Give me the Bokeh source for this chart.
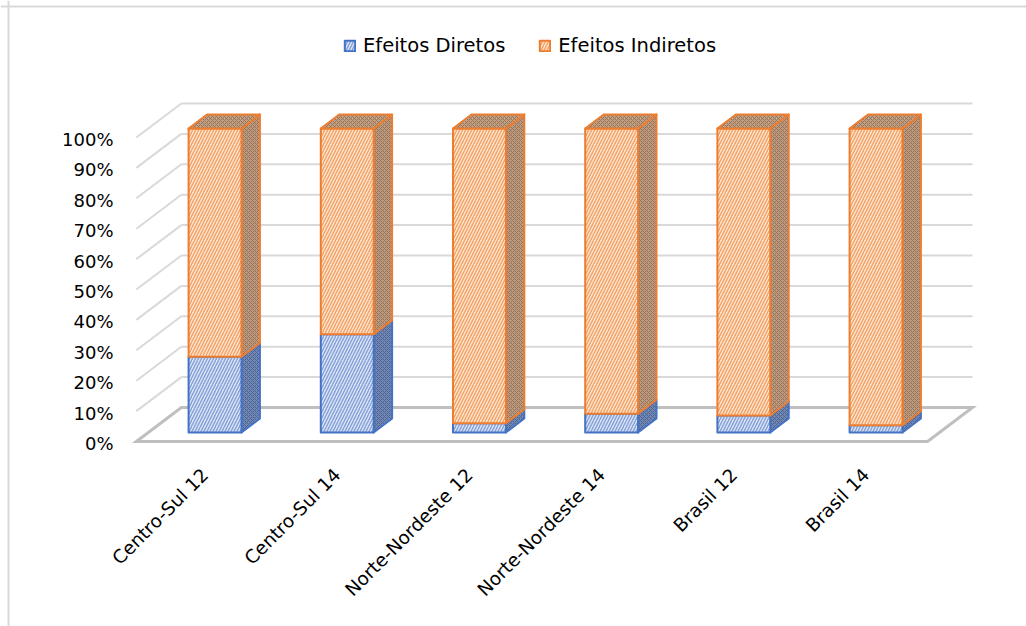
import math
from bokeh.plotting import figure
from bokeh.models import Range1d, Span, Legend, LegendItem
from bokeh.embed import file_html
from bokeh.resources import INLINE
from bokeh.core.properties import value

# ---------------- data ----------------
categories = ["Centro-Sul 12", "Centro-Sul 14", "Norte-Nordeste 12",
              "Norte-Nordeste 14", "Brasil 12", "Brasil 14"]
efeitos_diretos = [24.9, 32.3, 3.0, 6.2, 5.6, 2.4]
efeitos_indiretos = [75.1, 67.7, 97.0, 93.8, 94.4, 97.6]
series_names = ["Efeitos Diretos", "Efeitos Indiretos"]
y_ticks = [0, 10, 20, 30, 40, 50, 60, 70, 80, 90, 100]
y_tick_labels = ["0%", "10%", "20%", "30%", "40%", "50%", "60%", "70%", "80%", "90%", "100%"]

# ---------------- layout / style constants ----------------
W, H = 1026, 626
PX_PER_CAT = 132.2        # horizontal pixels per category step
PX_PER_PCT = 3.04         # vertical pixels per percent
X0_PX = 202.6             # pixel of category 0 on the front plane
Y0_PX = 441.0             # pixel of 0% on the front plane
DEPTH_DX_PX, DEPTH_DY_PX = 45.0, 34.0   # oblique depth offset (right, up)
DX = DEPTH_DX_PX / PX_PER_CAT
DY = DEPTH_DY_PX / PX_PER_PCT
BAR_HALF = 0.2            # half bar width in category units
Z_FRONT, Z_BACK = 0.265, 0.675
FLOOR_X = (-0.505, 5.48)
FONT = "DejaVu Sans"

GRID_COLOR = "#D9D9D9"
FLOOR_COLOR = "#BFBFBF"
styles = {
    "Efeitos Diretos": dict(line="#4472C4", front="#DFE7F6", front_h="#86A3D9",
                             side="#7489B2", side_h="#4A6294",
                             top="#8FA3C9", top_h="#5570A0"),
    "Efeitos Indiretos": dict(line="#ED7D31", front="#FDE8D8", front_h="#F3A466",
                               side="#BE9B7E", side_h="#94725A",
                               top="#C4A285", top_h="#937157"),
}


def proj(X, Y, Z):
    return X + Z * DX, Y + Z * DY


p = figure(width=W, height=H, output_backend="svg", toolbar_location=None,
           x_range=Range1d(-X0_PX / PX_PER_CAT, (W - X0_PX) / PX_PER_CAT),
           y_range=Range1d(-(H - Y0_PX) / PX_PER_PCT, Y0_PX / PX_PER_PCT),
           x_axis_location=None, y_axis_location=None, min_border=0,
           outline_line_color=None, background_fill_color="white",
           border_fill_color="white")
p.grid.visible = False

# outer frame of the chart area
p.add_layout(Span(location=-(X0_PX - 8) / PX_PER_CAT, dimension="height",
                  line_color=GRID_COLOR, line_width=2))
p.add_layout(Span(location=(Y0_PX - 6) / PX_PER_PCT, dimension="width",
                  line_color=GRID_COLOR, line_width=2))

# back wall gridlines
bx0, _ = proj(FLOOR_X[0], 0, 1)
bx1, _ = proj(FLOOR_X[1], 0, 1)
gx0, gx1, gy = [], [], []
for t in y_ticks[1:]:
    _, yy = proj(0, t, 1)
    gx0.append(bx0); gx1.append(bx1); gy.append(yy)
p.segment(x0=gx0, y0=gy, x1=gx1, y1=gy, line_color=GRID_COLOR, line_width=2)

# side wall diagonals
sx0, sy0, sx1, sy1 = [], [], [], []
for t in y_ticks[1:]:
    a = proj(FLOOR_X[0], t, 0)
    b = proj(FLOOR_X[0], t, 1)
    sx0.append(a[0]); sy0.append(a[1]); sx1.append(b[0]); sy1.append(b[1])
p.segment(x0=sx0, y0=sy0, x1=sx1, y1=sy1, line_color=GRID_COLOR, line_width=2)

# floor
fl = [proj(FLOOR_X[0], 0, 0), proj(FLOOR_X[1], 0, 0),
      proj(FLOOR_X[1], 0, 1), proj(FLOOR_X[0], 0, 1)]
p.patch(x=[q[0] for q in fl], y=[q[1] for q in fl], fill_color="white",
        line_color=FLOOR_COLOR, line_width=3, line_join="miter")

# bars
legend_renderers = {}
bottoms = [0.0] * len(categories)
for name, vals in zip(series_names, [efeitos_diretos, efeitos_indiretos]):
    st = styles[name]
    fx, fy, sxs, sys_, tx, ty = [], [], [], [], [], []
    for i, v in enumerate(vals):
        y0, y1 = bottoms[i], bottoms[i] + v
        xl, xr = i - BAR_HALF, i + BAR_HALF
        pts = [proj(xl, y0, Z_FRONT), proj(xr, y0, Z_FRONT),
               proj(xr, y1, Z_FRONT), proj(xl, y1, Z_FRONT)]
        fx.append([q[0] for q in pts]); fy.append([q[1] for q in pts])
        pts = [proj(xr, y0, Z_FRONT), proj(xr, y0, Z_BACK),
               proj(xr, y1, Z_BACK), proj(xr, y1, Z_FRONT)]
        sxs.append([q[0] for q in pts]); sys_.append([q[1] for q in pts])
        pts = [proj(xl, y1, Z_FRONT), proj(xr, y1, Z_FRONT),
               proj(xr, y1, Z_BACK), proj(xl, y1, Z_BACK)]
        tx.append([q[0] for q in pts]); ty.append([q[1] for q in pts])
        bottoms[i] = y1
    p.patches(xs=sxs, ys=sys_, fill_color=st["side"], hatch_pattern="x",
              hatch_color=st["side_h"], hatch_scale=4, hatch_weight=1,
              line_color=st["line"], line_width=2, line_join="round")
    r = p.patches(xs=fx, ys=fy, fill_color=st["front"], hatch_pattern="/",
                  hatch_color=st["front_h"], hatch_scale=6, hatch_weight=1.5,
                  line_color=st["line"], line_width=2, line_join="round")
    legend_renderers[name] = r
    if name == series_names[-1]:
        p.patches(xs=tx, ys=ty, fill_color=st["top"], hatch_pattern="x",
                  hatch_color=st["top_h"], hatch_scale=4, hatch_weight=1,
                  line_color=st["line"], line_width=2, line_join="round")

# y tick labels
tick_x = (113 - X0_PX) / PX_PER_CAT
p.text(x=[tick_x] * len(y_ticks), y=y_ticks, text=y_tick_labels,
       text_font=value(FONT), text_font_size="18px", text_color="#000000",
       text_align="right", text_baseline="middle", y_offset=2)

# category labels
lab_y = -30 / PX_PER_PCT
p.text(x=list(range(len(categories))), y=[lab_y] * len(categories), text=categories,
       text_font=value(FONT), text_font_size="18.5px", text_color="#000000",
       text_align="right", text_baseline="middle", angle=math.pi / 4,
       x_offset=2, y_offset=0)

legend = Legend(items=[LegendItem(label=n, renderers=[legend_renderers[n]]) for n in series_names],
                orientation="horizontal", location=(343, H - 57),
                glyph_width=13, glyph_height=13, label_standoff=7, spacing=33,
                padding=0, margin=0, border_line_alpha=0, background_fill_alpha=0,
                label_text_font=FONT, label_text_font_size="19.5px",
                label_text_color="#000000")
p.add_layout(legend)

open("out.html", "w").write(file_html(p, INLINE))
